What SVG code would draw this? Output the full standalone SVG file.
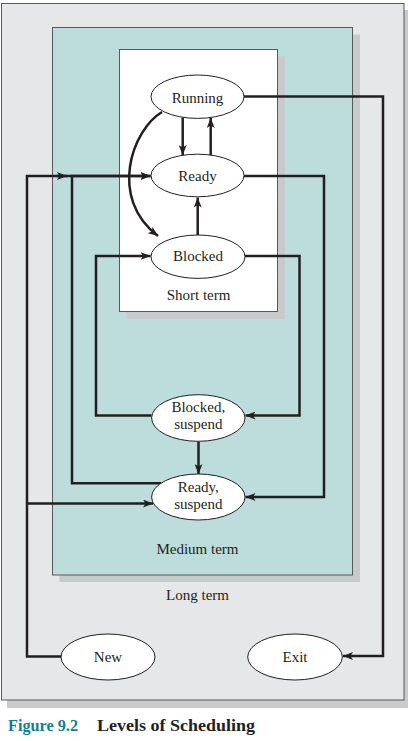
<svg xmlns="http://www.w3.org/2000/svg" width="408" height="741" viewBox="0 0 408 741">
<defs>
<style>
.box{stroke:#58595b;stroke-width:1}
.sh{fill:#c9cacc}
.node{fill:#ffffff;stroke:#231f20;stroke-width:1}
.lbl{font-family:"Liberation Serif","Times New Roman",serif;font-size:15px;fill:#231f20;text-anchor:middle}
.wire{fill:none;stroke:#231f20;stroke-width:2.5}
.arr{marker-end:url(#ah)}
.cap{font-family:"Liberation Serif","Times New Roman",serif;font-size:17px;font-weight:bold}
</style>
<marker id="ah" viewBox="0 0 10 8" refX="10" refY="4" markerWidth="10" markerHeight="8" orient="auto" markerUnits="userSpaceOnUse">
<path d="M0,0 L10,4 L0,8 L2.5,4 z" fill="#231f20"/>
</marker>
</defs>

<g id="long-term">
<rect class="sh" x="7" y="10" width="401" height="698"/>
<rect class="box" x="1.5" y="3.5" width="402.5" height="696.5" fill="#e6e7e8"/>
<text class="lbl" x="197.5" y="599.5">Long term</text>
</g>
<g id="medium-term">
<rect class="sh" x="59.5" y="34.5" width="300.5" height="547.5"/>
<rect class="box" x="52.5" y="27.5" width="300" height="547.5" fill="#bddcdc"/>
<text class="lbl" x="197.5" y="553.5">Medium term</text>
</g>
<g id="short-term">
<rect class="sh" x="126.5" y="56.5" width="158.5" height="262.5"/>
<rect class="box" x="119.5" y="49.5" width="158" height="262" fill="#ffffff"/>
<text class="lbl" x="198.5" y="300">Short term</text>
</g>

<g id="connectors">
<path class="wire arr" d="M244,96.5 H383 V656 H343"/>
<path class="wire arr" d="M182.7,117.5 V155"/>
<path class="wire arr" d="M210.7,155 V118"/>
<path class="wire arr" d="M162,112 C132,130 108,198 158,236"/>
<path class="wire arr" d="M197.7,235 V197.5"/>
<path class="wire arr" d="M244,176 H324 V497 H245.5"/>
<path class="wire arr" d="M245,256 H299.5 V415.5 H245.5"/>
<path class="wire arr" d="M151.5,415.5 H96 V256 H150.5"/>
<path class="wire arr" d="M198.5,441.5 V474"/>
<path class="wire arr" d="M161,483.3 H72 V176 H150.5"/>
<path class="wire arr" d="M61,656.5 H27 V176 H150.5"/>
<path class="wire arr" d="M57,176 H67"/>
<path class="wire arr" d="M27,503.5 H153"/>
</g>

<g id="running">
<ellipse class="node" cx="197.5" cy="96.7" rx="46.5" ry="21.7"/>
<text class="lbl" x="197.5" y="102.5">Running</text>
</g>
<g id="ready">
<ellipse class="node" cx="197.5" cy="175.5" rx="46.5" ry="21.3"/>
<text class="lbl" x="197.5" y="181">Ready</text>
</g>
<g id="blocked">
<ellipse class="node" cx="198" cy="256.7" rx="47" ry="21.7"/>
<text class="lbl" x="198" y="261">Blocked</text>
</g>
<g id="blocked-suspend">
<ellipse class="node" cx="198.3" cy="418" rx="46.7" ry="23.3"/>
<text class="lbl" x="198.3" y="412.3">Blocked,</text>
<text class="lbl" x="198.3" y="429.3">suspend</text>
</g>
<g id="ready-suspend">
<ellipse class="node" cx="198.3" cy="497" rx="46.7" ry="23"/>
<text class="lbl" x="198.3" y="492.3">Ready,</text>
<text class="lbl" x="198.3" y="509">suspend</text>
</g>
<g id="new">
<ellipse class="node" cx="108" cy="657" rx="47" ry="23"/>
<text class="lbl" x="108" y="662">New</text>
</g>
<g id="exit">
<ellipse class="node" cx="295" cy="657" rx="47.3" ry="23"/>
<text class="lbl" x="295" y="662">Exit</text>
</g>

<g id="caption">
<text class="cap" x="8" y="731" fill="#127f8f" textLength="70" lengthAdjust="spacingAndGlyphs">Figure 9.2</text>
<text class="cap" x="97" y="731" fill="#231f20" textLength="158" lengthAdjust="spacingAndGlyphs">Levels of Scheduling</text>
</g>
</svg>
